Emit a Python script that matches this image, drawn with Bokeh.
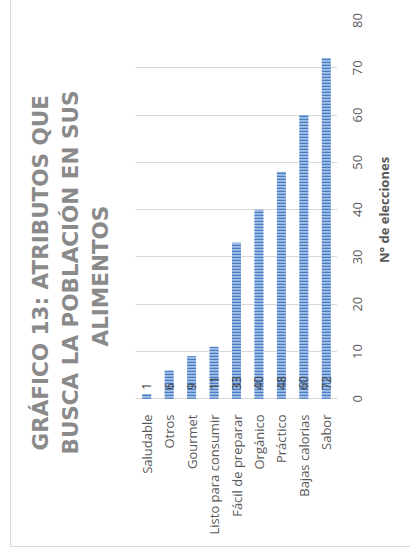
import math
from bokeh.plotting import figure
from bokeh.layouts import row
from bokeh.models import ColumnDataSource, FixedTicker, Range1d, Title
from bokeh.core.properties import value
from bokeh.embed import file_html
from bokeh.resources import INLINE

categories = ["Saludable", "Otros", "Gourmet", "Listo para consumir", "Fácil de preparar",
              "Orgánico", "Práctico", "Bajas calorias", "Sabor"]
values = [1, 6, 9, 11, 33, 40, 48, 60, 72]
y_ticks = [0, 10, 20, 30, 40, 50, 60, 70, 80]
title_lines = ["GRÁFICO 13: ATRIBUTOS QUE", "BUSCA LA POBLACIÓN EN SUS", "ALIMENTOS"]
axis_title = "N° de elecciones"

FONT = "Open Sans"
TFONT = "DejaVu Sans"
GRAY = "#595959"
H = 546
TOP, BOTTOM = 20, 143
FRAME_H = H - TOP - BOTTOM
Y_START = -1  # a little room below 0 so the rotated "0" label can sit centred on its line

# ---- main chart ----
p = figure(x_range=categories, y_range=Range1d(Y_START, y_ticks[-1]), width=363, height=H,
           output_backend="svg", toolbar_location=None, y_axis_location="right",
           min_border_left=124, min_border_right=37, min_border_top=TOP, min_border_bottom=BOTTOM)
p.outline_line_color = None

src = ColumnDataSource(dict(x=categories, top=values, lbl=[str(v) for v in values],
                            base=[0] * len(values)))
p.vbar(x="x", top="top", bottom="base", width=0.4, source=src, fill_color="#a3c0e8",
       line_color=None, hatch_pattern="horizontal_line", hatch_color="#4a7cc2",
       hatch_scale=3, hatch_weight=1.5)
p.text(x="x", y="base", text="lbl", source=src, angle=math.pi / 2, text_align="left",
       text_baseline="middle", y_offset=-9, text_font=value(FONT), text_font_size="12px",
       text_color="#404040")

p.xgrid.grid_line_color = None
p.ygrid.grid_line_color = "#d9d9d9"
p.ygrid[0].ticker = FixedTicker(ticks=y_ticks)

xa = p.xaxis[0]
xa.axis_line_color = None
xa.major_tick_line_color = None
xa.minor_tick_line_color = None
xa.major_tick_out = 0
xa.major_label_orientation = math.pi / 2
xa.major_label_standoff = 11
xa.major_label_text_font = FONT
xa.major_label_text_font_size = "13px"
xa.major_label_text_color = GRAY

# rotated value labels start at their anchor; anchor them half a label below the gridline
px_per_unit = FRAME_H / (y_ticks[-1] - Y_START)
digit_w = 7.4
tick_pos = [t - len(str(t)) * digit_w / 2 / px_per_unit for t in y_ticks]
ya = p.yaxis[0]
ya.ticker = FixedTicker(ticks=tick_pos)
ya.major_label_overrides = {tp: str(t) for tp, t in zip(tick_pos, y_ticks)}
ya.axis_line_color = None
ya.major_tick_line_color = None
ya.minor_tick_line_color = None
ya.major_tick_out = 0
ya.major_label_orientation = math.pi / 2
ya.major_label_standoff = 20
ya.major_label_text_font = FONT
ya.major_label_text_font_size = "13px"
ya.major_label_text_color = GRAY

# chart title: rotated lines in the left panel (closest to the frame added first)
title_offsets = [-47, -51, 57]   # shift of each line's start so the block is centred on the card
p.add_layout(Title(text=" ", text_font_size="8px", standoff=9, vertical_align="middle"), "left")
for line, off in reversed(list(zip(title_lines, title_offsets))):
    p.add_layout(Title(text=line, align="left", vertical_align="middle", offset=off,
                       standoff=3, text_font=TFONT, text_font_size="21.5px",
                       text_font_style="bold", text_color="#8a8a8a"), "left")

# ---- axis title panel (right) ----
rf = figure(width=36, height=H, x_range=Range1d(0, 36), y_range=Range1d(0, 1),
            output_backend="svg", toolbar_location=None,
            min_border_left=0, min_border_right=0, min_border_top=TOP, min_border_bottom=BOTTOM)
rf.axis.visible = False
rf.grid.visible = False
rf.outline_line_color = None
rf.text(x=[9.5], y=[0.5], text=[axis_title], angle=math.pi / 2, text_align="center",
        text_baseline="middle", y_offset=-2, text_font=value(FONT), text_font_size="13px",
        text_font_style="bold", text_color=GRAY)

layout = row(p, rf)
layout.styles = {"margin-left": "10px", "border-left": "1px solid #d9d9d9",
                 "border-bottom": "1px solid #d9d9d9"}

open("out.html", "w").write(file_html(layout, INLINE))
